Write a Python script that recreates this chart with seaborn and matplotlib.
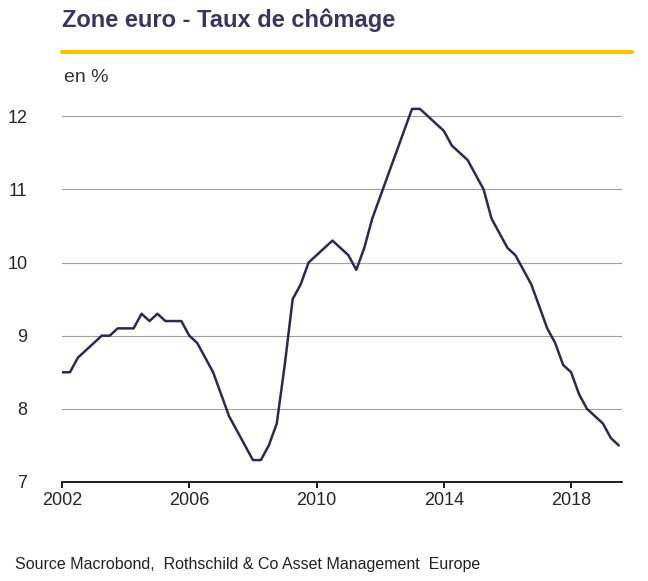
import matplotlib
matplotlib.use("Agg")
import matplotlib.pyplot as plt
import seaborn as sns
import pandas as pd
import numpy as np

years = [2002 + i*0.25 for i in range(71)]
rate = [8.5,8.5,8.7,8.8,8.9,9.0,9.0,9.1,9.1,9.1,9.3,9.2,9.3,9.2,9.2,9.2,
        9.0,8.9,8.7,8.5,8.2,7.9,7.7,7.5,7.3,7.3,7.5,7.8,8.6,9.5,9.7,10.0,
        10.1,10.2,10.3,10.2,10.1,9.9,10.2,10.6,10.9,11.2,11.5,11.8,12.1,12.1,
        12.0,11.9,11.8,11.6,11.5,11.4,11.2,11.0,10.6,10.4,10.2,10.1,9.9,9.7,
        9.4,9.1,8.9,8.6,8.5,8.2,8.0,7.9,7.8,7.6,7.5]
xticks = [2002, 2006, 2010, 2014, 2018]
yticks = [7, 8, 9, 10, 11, 12]
df = pd.DataFrame({"year": years, "rate": rate})

sns.set_theme(style="white")
plt.rcParams['font.family'] = ['Liberation Sans', 'DejaVu Sans']
fig = plt.figure(figsize=(6.48, 5.81), dpi=100)
ax = fig.add_axes([62/648, 1-482/581, (622-62)/648, (482-95)/581])
sns.lineplot(data=df, x="year", y="rate", ax=ax, color="#2b2a4f", linewidth=1.8)
ax.set_xlim(2002, 2019.6)
ax.set_ylim(7, 12.29)
ax.set_xticks(xticks); ax.set_xticklabels([str(t) for t in xticks], fontsize=13)
ax.set_yticks(yticks); ax.set_yticklabels([str(t) for t in yticks], fontsize=13)
ax.grid(axis='y', color='#a0a0a0', linewidth=0.8)
ax.set_axisbelow(True)
for s in ['top', 'right', 'left']:
    ax.spines[s].set_visible(False)
ax.spines['bottom'].set_color('black')
ax.tick_params(axis='x', bottom=True, length=4, color='black')
ax.tick_params(axis='y', length=0, pad=25)
ax.set_xlabel(""); ax.set_ylabel("")
fig.text(62/648, 1-20/581, "Zone euro - Taux de chômage", fontsize=17, fontweight='bold',
         color='#3a3560', va='center')
fig.add_artist(plt.Line2D([62/648, 632/648], [1-52/581, 1-52/581], color='#f2c500', linewidth=3))
fig.text(64/648, 1-78/581, "en %", fontsize=14, color='#333333', va='center')
fig.text(15/648, 1-565/581, "Source Macrobond,  Rothschild & Co Asset Management  Europe",
         fontsize=11.5, color='#222222', va='center')
fig.savefig("out.png", dpi=100)
